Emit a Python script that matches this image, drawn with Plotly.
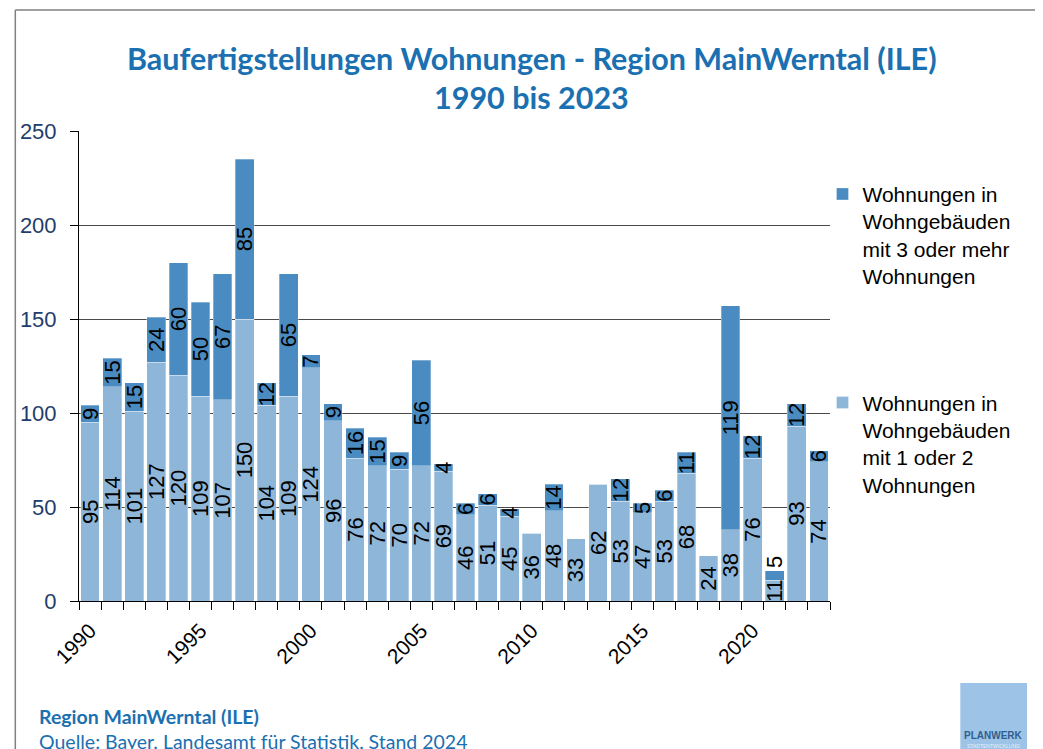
import plotly.graph_objects as go

years = list(range(1990, 2024))
small_buildings = [95, 114, 101, 127, 120, 109, 107, 150, 104, 109,
                   124, 96, 76, 72, 70, 72, 69, 46, 51, 45,
                   36, 48, 33, 62, 53, 47, 53, 68, 24, 38,
                   76, 11, 93, 74]
large_buildings = [9, 15, 15, 24, 60, 50, 67, 85, 12, 65,
                   7, 9, 16, 15, 9, 56, 4, 6, 6, 4,
                   0, 14, 0, 0, 12, 5, 6, 11, 0, 119,
                   12, 5, 12, 6]
label_years = [1990, 1995, 2000, 2005, 2010, 2015, 2020]
y_ticks = [0, 50, 100, 150, 200, 250]

name_large = "Wohnungen in<br>Wohngebäuden<br>mit 3 oder mehr<br>Wohnungen"
name_small = "Wohnungen in<br>Wohngebäuden<br>mit 1 oder 2<br>Wohnungen"

LIGHT = "#8db6d9"
DARK = "#4a8cc1"
TITLE_BLUE = "#1a70b0"
AXIS_BLUE = "#1f3d6b"
FONT = "Liberation Sans, Arial, sans-serif"
LABEL_FONT = dict(family=FONT, size=22, color="black")

# where the lower segment is too short for its label, the upper label sits above the bar
large_pos = ["outside" if s < 15 else "inside" for s in small_buildings]

fig = go.Figure()
fig.add_trace(go.Bar(
    x=years, y=small_buildings, name=name_small,
    marker=dict(color=LIGHT, line=dict(color="rgba(255,255,255,0.6)", width=0.5)),
    text=[str(v) if v else "" for v in small_buildings],
    textposition="inside", insidetextanchor="middle", textangle=-90,
    constraintext="none",
    insidetextfont=LABEL_FONT, outsidetextfont=LABEL_FONT,
    legend="legend2", hoverinfo="x+y", cliponaxis=False,
))
fig.add_trace(go.Bar(
    x=years, y=large_buildings, name=name_large,
    marker=dict(color=DARK, line=dict(color="rgba(255,255,255,0.6)", width=0.5)),
    text=[str(v) if v else "" for v in large_buildings],
    textposition=large_pos, insidetextanchor="middle", textangle=-90,
    constraintext="none",
    insidetextfont=LABEL_FONT, outsidetextfont=LABEL_FONT,
    legend="legend", hoverinfo="x+y", cliponaxis=False,
))

boundaries = [y - 0.5 for y in years] + [years[-1] + 0.5]

fig.update_layout(
    width=1035, height=741, autosize=False,
    barmode="stack", bargap=0.15,
    plot_bgcolor="white", paper_bgcolor="white",
    margin=dict(l=67, r=213, t=123, b=148),
    font=dict(family=FONT, size=20, color="black"),
    showlegend=True,
    legend=dict(x=0.99, y=0.909, xanchor="left", yanchor="top",
                valign="top", font=dict(family=FONT, size=21, color="black"),
                bgcolor="rgba(0,0,0,0)", borderwidth=0),
    legend2=dict(x=0.99, y=0.465, xanchor="left", yanchor="top",
                 valign="top", font=dict(family=FONT, size=21, color="black"),
                 bgcolor="rgba(0,0,0,0)", borderwidth=0),
    xaxis=dict(
        range=[years[0] - 0.5, years[-1] + 0.5],
        tickmode="array", tickvals=label_years, ticktext=[str(v) for v in label_years],
        tickangle=-45, ticks="outside", ticklen=8, tickcolor="rgba(0,0,0,0)",
        tickfont=dict(family=FONT, size=21, color="black"),
        showline=True, linecolor="black", linewidth=1,
        showgrid=False, zeroline=False,
        minor=dict(tickmode="array", tickvals=boundaries, ticks="outside",
                   ticklen=8, tickcolor="black", tickwidth=1, showgrid=False),
    ),
    yaxis=dict(
        range=[0, 250], tickmode="array", tickvals=y_ticks,
        ticks="outside", ticklen=8, tickcolor="black", ticklabelstandoff=9,
        tickfont=dict(family=FONT, size=22, color=AXIS_BLUE),
        showline=True, linecolor="black", linewidth=1,
        showgrid=True, gridcolor="#4a4a4a", gridwidth=1,
        zeroline=False,
    ),
)

# Title lines
fig.add_annotation(text="<b>Baufertigstellungen Wohnungen - Region MainWerntal (ILE)</b>",
                   xref="paper", yref="paper", x=0.6026, y=1.1553,
                   xanchor="center", yanchor="middle", showarrow=False,
                   font=dict(family="Lato, sans-serif", size=30.5, color=TITLE_BLUE))
fig.add_annotation(text="<b>1990 bis 2023</b>",
                   xref="paper", yref="paper", x=0.6026, y=1.0723,
                   xanchor="center", yanchor="middle", showarrow=False,
                   font=dict(family="Lato, sans-serif", size=30.5, color=TITLE_BLUE))

# Footer
fig.add_annotation(text="<b>Region MainWerntal (ILE)</b>",
                   xref="paper", yref="paper", x=-0.0556, y=-0.2468,
                   xanchor="left", yanchor="middle", showarrow=False,
                   font=dict(family="Lato, sans-serif", size=19.5, color=TITLE_BLUE))
fig.add_annotation(text="Quelle: Bayer. Landesamt für Statistik, Stand 2024",
                   xref="paper", yref="paper", x=-0.0556, y=-0.2979,
                   xanchor="left", yanchor="middle", showarrow=False,
                   font=dict(family="Lato, sans-serif", size=19.5, color=TITLE_BLUE))

# Frame lines
fig.add_shape(type="line", xref="paper", yref="paper", x0=-0.0848, x1=-0.0848,
              y0=1.2574, y1=-0.32, line=dict(color="#808080", width=1.5))
fig.add_shape(type="line", xref="paper", yref="paper", x0=-0.0848, x1=1.29,
              y0=1.2574, y1=1.2574, line=dict(color="#808080", width=1.5))

# Logo box
fig.add_shape(type="rect", xref="paper", yref="paper", x0=1.1735, x1=1.2623,
              y0=-0.32, y1=-0.1745, line=dict(width=0), fillcolor="#9dc3e6")
fig.add_annotation(text="<b>PLANWERK</b>", xref="paper", yref="paper",
                   x=1.2179, y=-0.2872, xanchor="center", yanchor="middle",
                   showarrow=False, font=dict(family=FONT, size=10, color="#2f5f8f"))
fig.add_annotation(text="STADTENTWICKLUNG", xref="paper", yref="paper",
                   x=1.2179, y=-0.3075, xanchor="center", yanchor="middle",
                   showarrow=False, font=dict(family=FONT, size=5, color="#e8f0f8"))

fig.write_html("out.html")
